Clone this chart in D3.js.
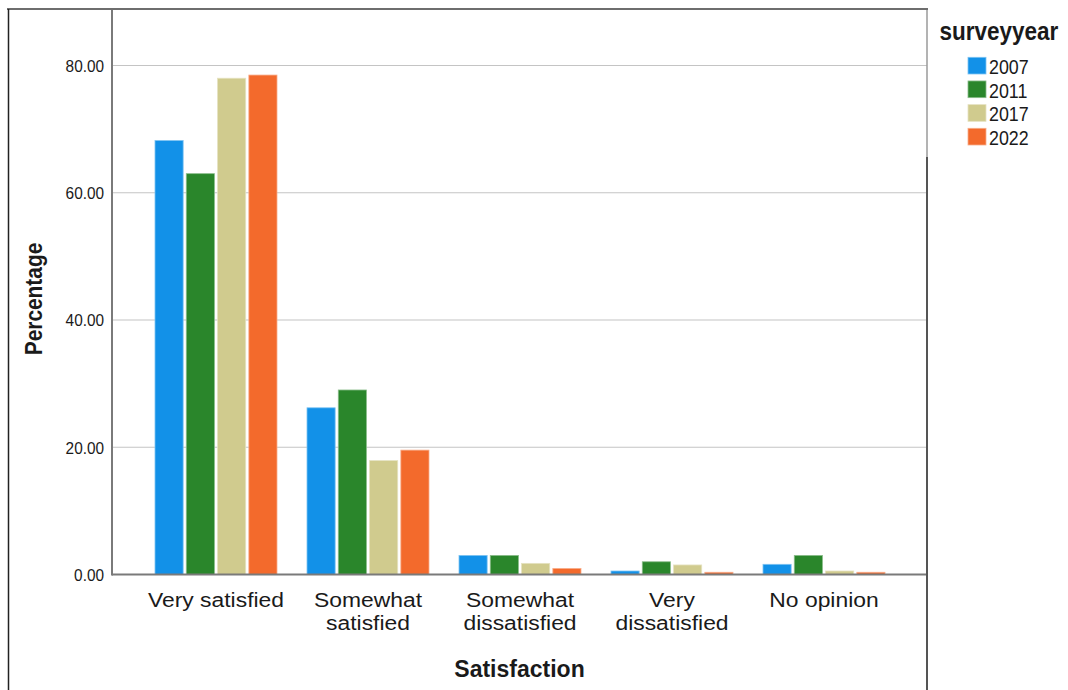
<!DOCTYPE html>
<html>
<head>
<meta charset="utf-8">
<script src="https://cdn.jsdelivr.net/npm/d3@7"></script>
<style>
  html, body { margin: 0; padding: 0; background: #fff; }
  svg { display: block; }
  text { font-family: "Liberation Sans", Arial, sans-serif; fill: #1a1a1a; }
</style>
</head>
<body>
<svg id="chart" width="1068" height="690"></svg>
<script>
// ---- data ----
const categories = ["Very satisfied", "Somewhat satisfied", "Somewhat dissatisfied", "Very dissatisfied", "No opinion"];
const categoryLines = [["Very satisfied"], ["Somewhat", "satisfied"], ["Somewhat", "dissatisfied"], ["Very", "dissatisfied"], ["No opinion"]];
const years = ["2007", "2011", "2017", "2022"];
const values2007 = [68.2, 26.2, 3.0, 0.55, 1.6];
const values2011 = [63.0, 29.0, 3.0, 2.0, 3.0];
const values2017 = [78.0, 17.9, 1.75, 1.5, 0.55];
const values2022 = [78.5, 19.55, 0.95, 0.35, 0.35];
const yTicks = [0, 20, 40, 60, 80];
const colors = ["#1291e8", "#2a862b", "#d0cb8e", "#f36a2c"];

const seriesValues = [values2007, values2011, values2017, values2022];
const rows = [];
categories.forEach((c, i) => years.forEach((yr, j) => rows.push({cat: c, year: yr, value: seriesValues[j][i]})));

// ---- layout ----
const svg = d3.select("#chart");
const plotLeft = 112, plotRight = 927, plotTop = 9, plotBottom = 574.5;

const x = d3.scaleBand().domain(categories).range([140, 900]).padding(0);
const xInner = d3.scaleBand().domain(years).range([15, 137]).paddingInner(0.1).paddingOuter(0);
const y = d3.scaleLinear().domain([0, 88.88]).range([plotBottom, plotTop]);
const color = d3.scaleOrdinal().domain(years).range(colors);

// gridlines
svg.append("g")
  .selectAll("line")
  .data(yTicks.filter(d => d > 0))
  .join("line")
  .attr("x1", plotLeft).attr("x2", plotRight)
  .attr("y1", d => y(d)).attr("y2", d => y(d))
  .attr("stroke", "#c4c4c4").attr("stroke-width", 1.2);

// y axis tick labels
const yAxis = d3.axisLeft(y).tickValues(yTicks).tickFormat(d3.format(".2f")).tickSize(0).tickPadding(8);
const gy = svg.append("g").attr("transform", `translate(${plotLeft},0)`).call(yAxis);
gy.select(".domain").remove();
gy.selectAll("text")
  .attr("font-size", 16)
  .attr("font-family", "'Liberation Sans', Arial, sans-serif")
  .attr("fill", "#1a1a1a")
  .attr("x", null)
  .attr("dy", "0.36em")
  .attr("transform", "translate(-8,0) scale(0.96,1)");

// bars
svg.append("g")
  .selectAll("rect")
  .data(rows)
  .join("rect")
  .attr("x", d => x(d.cat) + xInner(d.year))
  .attr("width", xInner.bandwidth())
  .attr("y", d => y(d.value))
  .attr("height", d => y(0) - y(d.value))
  .attr("fill", d => color(d.year))
  .attr("stroke", d => d3.interpolateRgb(color(d.year), "#ffffff")(0.45))
  .attr("stroke-width", 0.8);

// axes lines
svg.append("line").attr("x1", plotLeft).attr("x2", plotRight).attr("y1", y(0)).attr("y2", y(0))
  .attr("stroke", "#7a7a7a").attr("stroke-width", 2);
svg.append("line").attr("x1", plotLeft).attr("x2", plotLeft).attr("y1", plotTop).attr("y2", y(0) + 1)
  .attr("stroke", "#7a7a7a").attr("stroke-width", 2);
svg.append("line").attr("x1", plotRight).attr("x2", plotRight).attr("y1", plotTop).attr("y2", 157)
  .attr("stroke", "#9a9a9a").attr("stroke-width", 1.5);

// outer frame
svg.append("line").attr("x1", 7).attr("x2", plotRight + 1).attr("y1", plotTop).attr("y2", plotTop)
  .attr("stroke", "#6e6e6e").attr("stroke-width", 2);
svg.append("line").attr("x1", 8.5).attr("x2", 8.5).attr("y1", plotTop).attr("y2", 690)
  .attr("stroke", "#222").attr("stroke-width", 1.5);
svg.append("line").attr("x1", plotRight).attr("x2", plotRight).attr("y1", 157).attr("y2", 690)
  .attr("stroke", "#555").attr("stroke-width", 2);

// category labels (one text element per category, lines as tspans)
const catG = svg.append("g");
categories.forEach((c, i) => {
  const cx = x(c) + x.bandwidth() / 2;
  const t = catG.append("text")
    .attr("transform", `translate(${cx},606.5) scale(1.09,1)`)
    .attr("text-anchor", "middle")
    .attr("font-size", 21);
  categoryLines[i].forEach((line, k) => {
    t.append("tspan").attr("x", 0).attr("y", k * 23.6).text(line);
  });
});

// axis titles
svg.append("text")
  .attr("transform", `translate(${(plotLeft + plotRight) / 2},677) scale(1.0,1)`)
  .attr("text-anchor", "middle")
  .attr("font-size", 23)
  .attr("font-weight", "bold")
  .text("Satisfaction");

svg.append("text")
  .attr("transform", `translate(41.5,299) rotate(-90) scale(0.87,1)`)
  .attr("text-anchor", "middle")
  .attr("font-size", 24)
  .attr("font-weight", "bold")
  .text("Percentage");

// legend
const legend = svg.append("g");
legend.append("text")
  .attr("transform", "translate(939.5,40) scale(0.9,1)")
  .attr("font-size", 25)
  .attr("font-weight", "bold")
  .text("surveyyear");

const legendY = d3.scalePoint().domain(years).range([57.3, 128.3]);
const items = legend.selectAll("g.item").data(years).join("g").attr("class", "item")
  .attr("transform", d => `translate(968,${legendY(d)})`);
items.append("rect").attr("width", 18).attr("height", 16.7).attr("fill", d => color(d))
  .attr("stroke", d => d3.interpolateRgb(color(d), "#ffffff")(0.45)).attr("stroke-width", 0.8);
items.append("text")
  .attr("transform", "translate(21,16.7) scale(0.87,1)")
  .attr("font-size", 20.5)
  .text(d => d);
</script>
</body>
</html>
